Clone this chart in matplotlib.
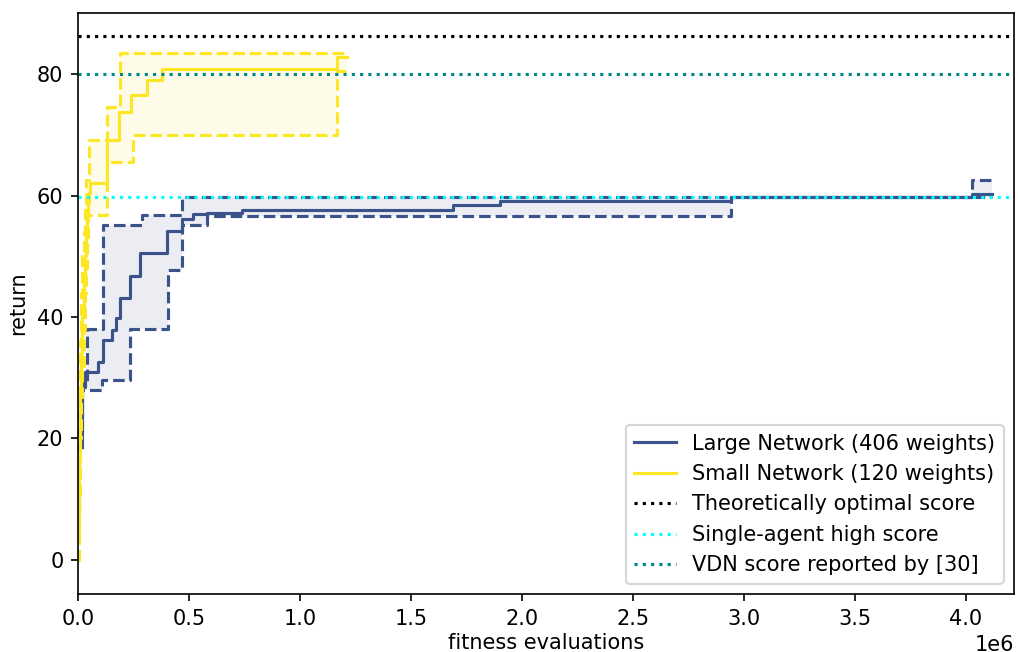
import numpy as np
import matplotlib
matplotlib.use("Agg")
import matplotlib.pyplot as plt

# fitness evaluations (x) and returns
large_x = [0, 0.005e6, 0.017e6, 0.03e6, 0.039e6, 0.0915e6, 0.107e6, 0.114e6, 0.152e6,
           0.170e6, 0.189e6, 0.234e6, 0.279e6, 0.287e6, 0.400e6, 0.404e6, 0.467e6,
           0.519e6, 0.580e6, 0.737e6, 1.691e6, 1.901e6, 2.944e6, 4.03e6, 4.12e6]
large_mean = [14, 20, 28.5, 31.0, 31.0, 32.6, 32.6, 36.2, 37.9, 39.8, 43.1, 46.7, 50.6,
              50.6, 54.2, 54.2, 56.1, 56.9, 57.2, 57.7, 58.5, 59.1, 59.7, 60.2, 60.2]
large_low = [8, 18, 28.0, 28.0, 28.0, 28.0, 29.6, 29.6, 29.6, 29.6, 29.6, 38.1, 38.1,
             38.1, 38.1, 47.7, 55.1, 55.1, 56.7, 56.7, 56.7, 56.7, 59.8, 59.8, 59.8]
large_high = [20, 25, 29.5, 29.5, 38.1, 38.1, 38.1, 55.1, 55.1, 55.1, 55.1, 55.1, 55.1,
              56.8, 56.8, 56.8, 59.8, 59.8, 59.8, 59.8, 59.8, 59.8, 59.8, 62.5, 62.5]

small_x = [0, 0.005e6, 0.01e6, 0.015e6, 0.02e6, 0.025e6, 0.03e6, 0.035e6, 0.04e6, 0.045e6,
           0.05e6, 0.055e6, 0.13e6, 0.185e6, 0.19e6, 0.24e6, 0.25e6, 0.31e6, 0.38e6,
           1.165e6, 1.21e6]
small_mean = [3, 18, 28, 34, 40, 46, 50, 54, 57, 59, 60.5, 62.0, 69.1, 73.7, 73.7, 76.5,
              76.5, 79.0, 80.8, 82.8, 82.8]
small_low = [0, 10, 20, 26, 32, 38, 44, 48, 52, 56.8, 56.8, 56.8, 65.5, 65.5, 65.5, 65.5,
             70.0, 70.0, 70.0, 80.5, 80.5]
small_high = [8, 26, 36, 44, 50, 54, 58, 62.5, 62.5, 62.5, 69.1, 69.1, 74.6, 74.6, 83.5,
              83.5, 83.5, 83.5, 83.5, 83.5, 83.5]

optimal_score = 86.25
single_agent_score = 59.8
vdn_score = 80.0

blue = "#3b528b"
yellow = "#fde725"

fig = plt.figure(figsize=(1018 / 150, 652 / 150), dpi=150)
ax = fig.add_axes([0.0766, 0.089, 0.9194, 0.891])

# Large network
ax.plot(large_x, large_mean, drawstyle="steps-post", color=blue, lw=1.5,
        label="Large Network (406 weights)")
ax.plot(large_x, large_low, drawstyle="steps-post", color=blue, lw=1.5, ls="--")
ax.plot(large_x, large_high, drawstyle="steps-post", color=blue, lw=1.5, ls="--")
ax.fill_between(large_x, large_low, large_high, step="post", color=blue, alpha=0.1, lw=0)

# Small network
ax.plot(small_x, small_mean, drawstyle="steps-post", color=yellow, lw=1.5,
        label="Small Network (120 weights)")
ax.plot(small_x, small_low, drawstyle="steps-post", color=yellow, lw=1.5, ls="--")
ax.plot(small_x, small_high, drawstyle="steps-post", color=yellow, lw=1.5, ls="--")
ax.fill_between(small_x, small_low, small_high, step="post", color=yellow, alpha=0.1, lw=0)

# reference scores
ax.axhline(optimal_score, color="black", ls=":", lw=1.5, label="Theoretically optimal score")
ax.axhline(single_agent_score, color="cyan", ls=":", lw=1.5, label="Single-agent high score")
ax.axhline(vdn_score, color="darkcyan", ls=":", lw=1.5, label="VDN score reported by [30]")

ax.set_xlim(0, 4.217e6)
ax.set_ylim(-5.6, 90.05)
ax.set_xlabel("fitness evaluations", labelpad=2)
ax.set_ylabel("return")
ax.legend(loc="lower right")

fig.savefig("out.png", dpi=150)
